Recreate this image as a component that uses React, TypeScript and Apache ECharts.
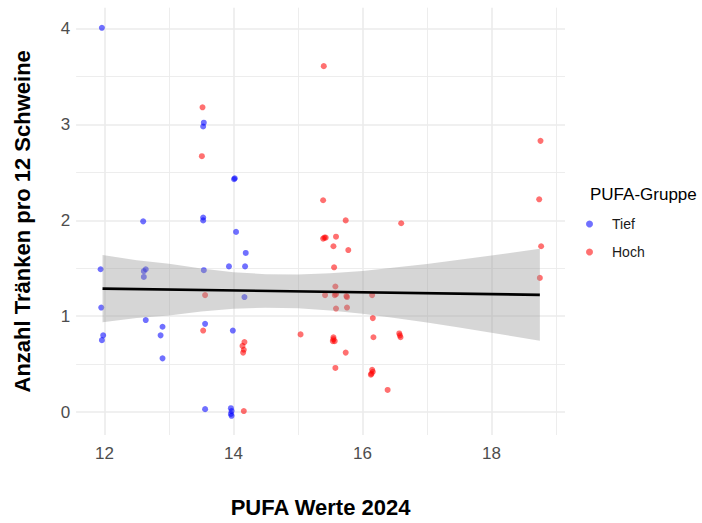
import React, { useEffect, useRef } from "react";
import * as echarts from "echarts";

const FONT = '"Liberation Sans", Arial, Helvetica, sans-serif';

// Axis ticks and grid lines
const xTicks = [12, 14, 16, 18];
const xMinorTicks = [13, 15, 17, 19];
const yTicks = [0, 1, 2, 3, 4];
const yMinorTicks = [0.5, 1.5, 2.5, 3.5];

// Group "Tief" (low PUFA)
const tiefX = [11.96, 13.54, 13.53, 14.01, 14.02, 13.53, 13.53, 12.6, 14.04, 14.19, 11.94, 12.64, 12.61, 12.61, 13.54, 13.93, 14.18, 14.17, 11.95, 12.64, 12.9, 13.56, 13.99, 11.98, 11.96, 12.87, 12.9, 13.56, 13.96, 13.97, 13.96, 13.97];
const tiefY = [4.01, 3.02, 2.98, 2.43, 2.44, 2.03, 2.0, 1.99, 1.88, 1.66, 1.49, 1.49, 1.47, 1.41, 1.48, 1.52, 1.52, 1.2, 1.09, 0.96, 0.89, 0.92, 0.85, 0.8, 0.75, 0.8, 0.56, 0.03, 0.04, 0.01, -0.02, -0.04];

// Group "Hoch" (high PUFA)
const hochX = [13.52, 13.51, 13.56, 13.53, 14.17, 14.14, 14.16, 14.15, 14.16, 15.4, 15.39, 15.74, 16.6, 15.39, 15.41, 15.43, 15.59, 15.55, 15.78, 15.56, 15.58, 15.42, 15.57, 15.59, 15.75, 15.76, 16.15, 15.59, 15.76, 16.16, 15.04, 15.55, 15.55, 15.57, 15.54, 16.17, 16.57, 16.58, 16.59, 15.74, 15.58, 16.15, 16.16, 16.14, 16.13, 16.39, 18.76, 18.74, 18.77, 18.75];
const hochY = [3.18, 2.67, 1.22, 0.85, 0.73, 0.69, 0.65, 0.62, 0.01, 3.61, 2.21, 2.0, 1.97, 1.81, 1.82, 1.82, 1.83, 1.73, 1.69, 1.51, 1.31, 1.22, 1.22, 1.23, 1.21, 1.2, 1.22, 1.08, 1.09, 0.98, 0.81, 0.78, 0.76, 0.74, 0.74, 0.78, 0.82, 0.8, 0.78, 0.62, 0.46, 0.44, 0.42, 0.4, 0.39, 0.23, 2.83, 2.22, 1.73, 1.4];

// Linear trend and its confidence band
const fitX = [11.97, 18.75];
const fitY = [1.288, 1.223];
const bandX = [11.97, 12.5, 13, 13.5, 14, 14.5, 15, 15.5, 16, 16.5, 17, 17.5, 18, 18.75];
const bandHi = [1.639, 1.584, 1.548, 1.498, 1.46, 1.439, 1.435, 1.448, 1.473, 1.508, 1.546, 1.589, 1.633, 1.703];
const bandLo = [0.937, 0.982, 1.008, 1.048, 1.078, 1.089, 1.083, 1.06, 1.025, 0.982, 0.934, 0.881, 0.827, 0.743];

const X_MIN = 11.56;
const X_MAX = 19.14;
const Y_MIN = -0.24;
const Y_MAX = 4.22;

const GRID_COLOR = "#EBEBEB";

function pairs(xs: number[], ys: number[]) {
  return xs.map((x, i) => [x, ys[i]]);
}

export default function App() {
  const ref = useRef<HTMLDivElement>(null);

  useEffect(() => {
    if (!ref.current) return;
    const chart = echarts.init(ref.current, null, { renderer: "svg" });

    const gridLines = (xs: number[], ys: number[], width: number, name: string) => ({
      name,
      type: "line",
      data: [],
      silent: true,
      z: 0,
      markLine: {
        silent: true,
        z: 0,
        animation: false,
        symbol: ["none", "none"],
        label: { show: false },
        emphasis: { disabled: true },
        lineStyle: { color: GRID_COLOR, width, type: "solid" },
        data: [...xs.map((v) => ({ xAxis: v })), ...ys.map((v) => ({ yAxis: v }))],
      },
    });

    chart.setOption({
      animation: false,
      backgroundColor: "#FFFFFF",
      textStyle: { fontFamily: FONT },
      title: {
        text: "PUFA-Gruppe",
        left: 590,
        top: 186,
        padding: 0,
        textStyle: { fontFamily: FONT, fontSize: 17, fontWeight: "normal", color: "#000000" },
      },
      legend: {
        data: ["Tief", "Hoch"],
        orient: "vertical",
        left: 586,
        top: 217,
        padding: 0,
        itemWidth: 35,
        itemHeight: 7,
        itemGap: 14,
        icon: "circle",
        selectedMode: false,
        textStyle: { fontFamily: FONT, fontSize: 14, color: "#1A1A1A" },
      },
      grid: { left: 76.1, right: 137, top: 7.7, bottom: 81.3, containLabel: false },
      xAxis: {
        type: "value",
        min: X_MIN,
        max: X_MAX,
        name: "PUFA Werte 2024",
        nameLocation: "middle",
        nameGap: 61,
        nameTextStyle: { fontFamily: FONT, fontSize: 22, fontWeight: "bold", color: "#000000" },
        axisLine: { show: false },
        axisTick: { show: false },
        splitLine: { show: false },
        axisLabel: {
          customValues: xTicks,
          margin: 10,
          fontFamily: FONT,
          fontSize: 17,
          color: "#4D4D4D",
        },
      },
      yAxis: {
        type: "value",
        min: Y_MIN,
        max: Y_MAX,
        name: "Anzahl Tränken pro 12 Schweine",
        nameLocation: "middle",
        nameGap: 43,
        nameTextStyle: { fontFamily: FONT, fontSize: 22, fontWeight: "bold", color: "#000000" },
        axisLine: { show: false },
        axisTick: { show: false },
        splitLine: { show: false },
        axisLabel: {
          customValues: yTicks,
          margin: 6,
          fontFamily: FONT,
          fontSize: 17,
          color: "#4D4D4D",
        },
      },
      series: [
        gridLines(xMinorTicks, yMinorTicks, 0.9, "minor"),
        gridLines(xTicks, yTicks, 1.6, "major"),
        {
          name: "Tief",
          type: "scatter",
          z: 2,
          symbol: "circle",
          symbolSize: 6,
          itemStyle: { color: "rgba(0,0,255,0.7)" },
          data: pairs(tiefX, tiefY),
        },
        {
          name: "Hoch",
          type: "scatter",
          z: 2,
          symbol: "circle",
          symbolSize: 6,
          itemStyle: { color: "rgba(255,0,0,0.7)" },
          data: pairs(hochX, hochY),
        },
        {
          name: "band",
          type: "custom",
          z: 3,
          silent: true,
          data: bandX.map((x, i) => [x, bandLo[i], bandHi[i]]),
          encode: { x: 0, y: [1, 2] },
          renderItem: (params: any, api: any) => {
            if (params.dataIndex !== 0) return null;
            const upper = bandX.map((x, i) => api.coord([x, bandHi[i]]));
            const lower = bandX.map((x, i) => api.coord([x, bandLo[i]])).reverse();
            return {
              type: "polygon",
              shape: { points: upper.concat(lower) },
              style: { fill: "rgba(153,153,153,0.4)" },
            };
          },
        },
        {
          name: "trend",
          type: "line",
          z: 4,
          silent: true,
          symbol: "none",
          lineStyle: { color: "#000000", width: 2.6 },
          data: pairs(fitX, fitY),
        },
      ],
    });

    return () => chart.dispose();
  }, []);

  return (
    <div
      ref={ref}
      style={{ position: "absolute", left: 0, top: 0, width: 702, height: 523 }}
    />
  );
}
